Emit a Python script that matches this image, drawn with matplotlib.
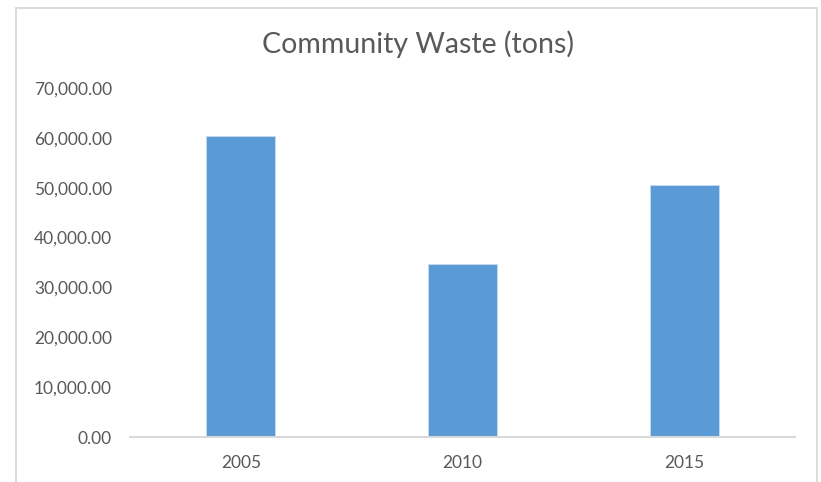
import matplotlib
matplotlib.use("Agg")
import matplotlib.pyplot as plt
from matplotlib.patches import Rectangle
from matplotlib.ticker import FuncFormatter

categories = ["2005", "2010", "2015"]
values = [60430, 34730, 50530]
yticks = [0, 10000, 20000, 30000, 40000, 50000, 60000, 70000]

plt.rcParams['font.family'] = ['Lato', 'DejaVu Sans']

W, H = 821, 482
fig = plt.figure(figsize=(W / 100, H / 100), dpi=100)
fig.patch.set_facecolor("white")

# chart area border
fig.patches.append(Rectangle((16 / W, -0.05), (817 - 16) / W, (H - 8) / H + 0.05,
                             transform=fig.transFigure, fill=False,
                             edgecolor="#d9d9d9", linewidth=1.3, zorder=0))

ax = fig.add_axes([130 / W, 45 / H, 665 / W, (437 - 88) / H])
x = range(len(categories))
ax.bar(x, values, width=0.31, color="#5b9bd5", edgecolor="#c9dcef", linewidth=0.6, zorder=2)
ax.set_xlim(-0.5, len(categories) - 0.5)
ax.set_ylim(0, 70000)
ax.set_yticks(yticks)
ax.yaxis.set_major_formatter(FuncFormatter(lambda v, p: f"{v:,.2f}"))
ax.set_xticks(list(x))
ax.set_xticklabels(categories)
for s in ["top", "right", "left"]:
    ax.spines[s].set_visible(False)
ax.spines["bottom"].set_color("#d9d9d9")
ax.spines["bottom"].set_linewidth(1.5)
ax.tick_params(axis="both", length=0, labelsize=12.5, labelcolor="#595959")
ax.tick_params(axis="y", pad=13)
ax.tick_params(axis="x", pad=13)

fig.text(418 / W, 1 - 53 / H, "Community Waste (tons)", ha="center", va="baseline",
         fontsize=20.5, color="#595959")

fig.savefig("out.png", dpi=100)
